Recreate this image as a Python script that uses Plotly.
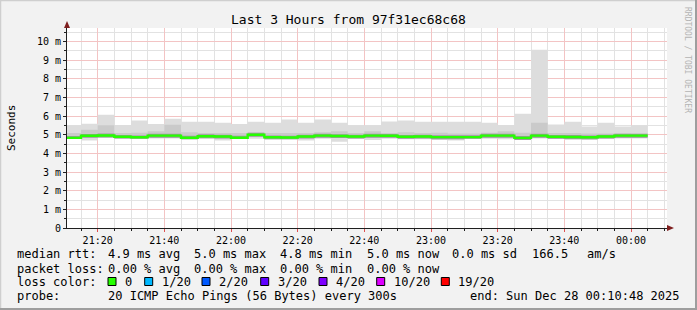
import plotly.graph_objects as go
import pandas as pd

# ---------------- data ----------------
bar_start = pd.date_range("2025-12-27 21:10:00", "2025-12-28 00:05:00", freq="5min")  # 35 starts + final edge

median_ms = [4.83, 4.94, 4.96, 4.89, 4.86, 4.95, 4.95, 4.84, 4.92, 4.90, 4.84, 5.00, 4.86, 4.85, 4.90, 4.95, 4.93, 4.90,
             4.95, 4.94, 4.89, 4.90, 4.87, 4.87, 4.87, 4.95, 4.95, 4.83, 4.95, 4.89, 4.88, 4.86, 4.90, 4.95, 4.95]
ping_max = [5.50, 5.59, 6.07, 5.52, 5.76, 5.57, 5.86, 5.69, 5.69, 5.64, 5.57, 5.69, 5.64, 5.82, 5.64, 5.82, 5.64, 5.50,
            5.50, 5.71, 5.76, 5.69, 5.69, 5.69, 5.69, 5.64, 5.52, 6.12, 9.55, 5.55, 5.69, 5.44, 5.64, 5.44, 5.50]
ping_min = [4.77, 4.69, 4.85, 4.80, 4.78, 4.80, 4.80, 4.75, 4.80, 4.69, 4.78, 4.78, 4.75, 4.75, 4.69, 4.78, 4.62, 4.78,
            4.72, 4.78, 4.75, 4.75, 4.72, 4.69, 4.78, 4.78, 4.75, 4.72, 4.80, 4.78, 4.72, 4.72, 4.78, 4.80, 4.80]
ping_hi2 = [5.09, 5.27, 5.50, 5.09, 5.10, 5.18, 5.53, 5.13, 5.09, 5.09, 5.09, 5.12, 5.09, 5.09, 5.09, 5.13, 5.18, 5.09,
            5.18, 5.09, 5.13, 5.09, 5.10, 5.07, 5.07, 5.10, 5.18, 5.10, 5.64, 5.09, 5.09, 5.07, 5.07, 5.07, 5.05]
ping_hi3 = [4.93, 5.04, 5.06, 4.99, 4.96, 5.05, 5.05, 4.94, 5.02, 5.00, 4.94, 5.10, 4.96, 4.95, 5.00, 5.05, 5.03, 5.00,
            5.05, 5.04, 4.99, 5.00, 4.97, 4.97, 4.97, 5.05, 5.05, 4.93, 5.05, 4.99, 4.98, 4.96, 5.00, 5.05, 5.05]
ping_lo3 = [4.77, 4.83, 4.85, 4.80, 4.78, 4.84, 4.84, 4.75, 4.81, 4.79, 4.78, 4.89, 4.75, 4.75, 4.79, 4.84, 4.82, 4.79,
            4.84, 4.83, 4.78, 4.79, 4.76, 4.76, 4.78, 4.84, 4.84, 4.72, 4.84, 4.78, 4.77, 4.75, 4.79, 4.84, 4.84]

y_tick_vals = [0, 1, 2, 3, 4, 5, 6, 7, 8, 9, 10]
y_tick_text = ["0", "1 m", "2 m", "3 m", "4 m", "5 m", "6 m", "7 m", "8 m", "9 m", "10 m"]

title_text = "Last 3 Hours from 97f31ec68c68"
rtt_stats = ["4.9 ms avg", "5.0 ms max", "4.8 ms min", "5.0 ms now", "0.0 ms sd", "166.5", "am/s"]
loss_stats = ["0.00 % avg", "0.00 % max", "0.00 % min", "0.00 % now"]
loss_labels = ["0", "1/20", "2/20", "3/20", "4/20", "10/20", "19/20"]
loss_colors = ["#26ff00", "#00b8ff", "#0059ff", "#5e00ff", "#7e00ff", "#dd00ff", "#ff0000"]
probe_text = "20 ICMP Echo Pings (56 Bytes) every 300s"
end_text = "end: Sun Dec 28 00:10:48 2025"

# ---------------- layout geometry ----------------
W, H = 697, 310
L, R, T, B = 67, 30, 28, 82
PW, PH = W - L - R, H - T - B


def px(x):
    return (x - L) / PW


def py(y):
    return (T + PH - y) / PH


def ext(a):
    return list(a) + [a[-1]]


xs = list(bar_start)
fig = go.Figure()


def band(lo, hi, color):
    fig.add_trace(go.Scatter(x=xs, y=ext(lo), mode="lines", line=dict(width=0, shape="hv"),
                             hoverinfo="skip", showlegend=False))
    fig.add_trace(go.Scatter(x=xs, y=ext(hi), mode="lines", line=dict(width=0, shape="hv"),
                             fill="tonexty", fillcolor=color, hoverinfo="skip", showlegend=False))


band(ping_min, ping_max, "#dddddd")
band(ping_lo3, ping_hi2, "#cacaca")
band(ping_lo3, ping_hi3, "#9a9a9a")
fig.add_trace(go.Scatter(x=xs, y=ext(median_ms), mode="lines",
                         line=dict(width=2.4, shape="hv", color=loss_colors[0]),
                         hoverinfo="skip", showlegend=False))

mono = "DejaVu Sans Mono"
grid_major = "rgb(243,196,196)"
grid_minor = "rgb(226,226,226)"

fig.update_layout(
    width=W, height=H, margin=dict(l=L, r=R, t=T, b=B, pad=0),
    paper_bgcolor="#f2f2f2", plot_bgcolor="#ffffff",
    font=dict(family=mono, size=10, color="#000000"),
    showlegend=False,
    xaxis=dict(type="date", range=["2025-12-27 21:10:48", "2025-12-28 00:10:48"],
               tick0="2025-12-27 21:20:00", dtick=20 * 60 * 1000, tickformat="%H:%M",
               showgrid=True, gridcolor=grid_major, gridwidth=1,
               minor=dict(dtick=5 * 60 * 1000, showgrid=True, gridcolor=grid_minor,
                          ticks="outside", ticklen=2, tickcolor="#1f1f1f"),
               ticks="outside", ticklen=3, tickcolor="#de4f4f",
               showline=True, linecolor="#1f1f1f", linewidth=1, zeroline=False,
               layer="above traces", tickfont=dict(family=mono, size=10)),
    yaxis=dict(range=[0, PH / 18.66], tickvals=y_tick_vals, ticktext=y_tick_text,
               showgrid=True, gridcolor=grid_major, gridwidth=1,
               minor=dict(dtick=0.5, showgrid=True, gridcolor=grid_minor,
                          ticks="outside", ticklen=2, tickcolor="#1f1f1f"),
               ticks="outside", ticklen=3, tickcolor="#1f1f1f",
               showline=True, linecolor="#1f1f1f", linewidth=1, zeroline=False,
               layer="above traces", tickfont=dict(family=mono, size=10)),
)

ann = []


def text(x, y, s, size=12, color="#000000", anchor="left", angle=0):
    ann.append(dict(x=px(x), y=py(y), xref="paper", yref="paper", text=s.replace(" ", "\u00a0"),
                    showarrow=False, xanchor=anchor, yanchor="middle", borderpad=0, textangle=angle,
                    font=dict(family=mono, size=size, color=color)))


text(348, 19, title_text, size=13, anchor="center")
text(11, 128, "Seconds", size=11, anchor="center", angle=-90)
text(688, 60, "RRDTOOL / TOBI OETIKER", size=8, color="#b4b4b4", anchor="center", angle=90)

row_y = [254, 268.5, 281.5, 296]
col_x = [107.3, 193.3, 279.3, 366, 451, 530.7, 586]
text(16, row_y[0], "median rtt:")
for s, x in zip(rtt_stats, col_x):
    text(x, row_y[0], s)
text(16, row_y[1], "packet loss:")
for s, x in zip(loss_stats, col_x):
    text(x, row_y[1], s)
text(16, row_y[2], "loss color:")
loss_x = [124, 160.7, 218, 276.7, 335, 392.7, 457.3]
shapes = []
for lab, col, x in zip(loss_labels, loss_colors, loss_x):
    text(x, row_y[2], lab)
    shapes.append(dict(type="rect", xref="paper", yref="paper", x0=px(x - 16), x1=px(x - 8),
                       y0=py(row_y[2] + 4), y1=py(row_y[2] - 4), fillcolor=col,
                       line=dict(color="#000000", width=1)))
text(16, row_y[3], "probe:")
text(107.3, row_y[3], probe_text)
text(681, row_y[3], end_text, anchor="right")

# axis arrows (dark red)
arrow = "#7f1f1f"
shapes.append(dict(type="path", xref="paper", yref="paper", fillcolor=arrow, line=dict(color=arrow, width=0),
                   path=f"M {px(64)} {py(28)} L {px(70)} {py(28)} L {px(67)} {py(21)} Z"))
shapes.append(dict(type="path", xref="paper", yref="paper", fillcolor=arrow, line=dict(color=arrow, width=0),
                   path=f"M {px(667)} {py(225)} L {px(667)} {py(231)} L {px(674)} {py(228)} Z"))
# 3D frame
shadeA, shadeB = "#cfcfcf", "#9e9e9e"
shapes.append(dict(type="line", xref="paper", yref="paper", x0=px(0), x1=px(W), y0=py(0.5), y1=py(0.5),
                   line=dict(color=shadeA, width=1.5)))
shapes.append(dict(type="line", xref="paper", yref="paper", x0=px(0.5), x1=px(0.5), y0=py(0), y1=py(H),
                   line=dict(color=shadeA, width=1.5)))
shapes.append(dict(type="line", xref="paper", yref="paper", x0=px(0), x1=px(W), y0=py(H - 1), y1=py(H - 1),
                   line=dict(color=shadeB, width=2)))
shapes.append(dict(type="line", xref="paper", yref="paper", x0=px(W - 1), x1=px(W - 1), y0=py(0), y1=py(H),
                   line=dict(color=shadeB, width=2)))

fig.update_layout(annotations=ann, shapes=shapes)
fig.write_html("out.html")
